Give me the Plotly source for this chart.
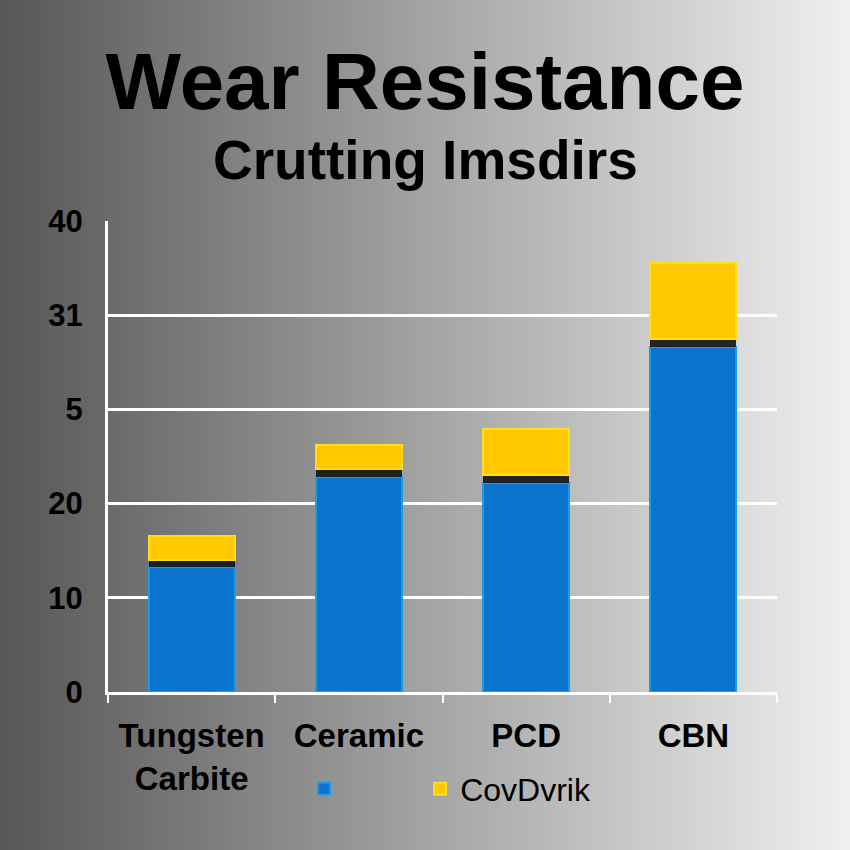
import base64, struct, zlib
import plotly.graph_objects as go

# ---- data ----
categories = ["Tungsten<br>Carbite", "Ceramic", "PCD", "CBN"]
blue_values = [13.3, 22.8, 22.2, 36.6]
gap_values = [0.7, 0.9, 0.8, 0.9]
yellow_values = [2.6, 2.5, 4.9, 8.0]
ytick_vals = [0, 10, 20, 30, 40, 50]
ytick_text = ["0", "10", "20", "5", "31", "40"]
legend_names = ["\u00a0" * 8, "CovDvrik"]
title_text = "Wear Resistance"
subtitle_text = "Crutting Imsdirs"

W, H = 850, 850
L, R, T, B = 108, 73, 221, 158
pw, ph = W - L - R, H - T - B


# ---- brushed-metal gradient background (decoration) ----
def gradient_png(width=256):
    row = bytearray([0])
    for i in range(width):
        g = int(88 + 152 * i / (width - 1))
        row += bytes([g, g, g])
    raw = bytes(row)
    def chunk(tag, data):
        c = struct.pack(">I", len(data)) + tag + data
        return c + struct.pack(">I", zlib.crc32(tag + data) & 0xFFFFFFFF)
    png = b"\x89PNG\r\n\x1a\n"
    png += chunk(b"IHDR", struct.pack(">IIBBBBB", width, 1, 8, 2, 0, 0, 0))
    png += chunk(b"IDAT", zlib.compress(raw))
    png += chunk(b"IEND", b"")
    return "data:image/png;base64," + base64.b64encode(png).decode()


FONT = "Liberation Sans, Arial, sans-serif"

fig = go.Figure()
fig.add_trace(go.Bar(
    x=categories, y=blue_values, name=legend_names[0],
    marker=dict(color="#0a74cc", line=dict(color="#1c9be8", width=2)),
))
fig.add_trace(go.Bar(
    x=categories, y=gap_values, showlegend=False, hoverinfo="skip",
    marker=dict(color="rgba(22,22,22,0.92)", line=dict(width=0)),
))
fig.add_trace(go.Bar(
    x=categories, y=yellow_values, name=legend_names[1],
    marker=dict(color="#ffc800", line=dict(color="#ffdc1e", width=2)),
))

fig.update_layout(
    width=W, height=H,
    margin=dict(l=L, r=R, t=T, b=B, autoexpand=False),
    barmode="stack", bargap=0.485,
    paper_bgcolor="#a4a4a4", plot_bgcolor="rgba(0,0,0,0)",
    font=dict(family=FONT, color="black"),
    images=[dict(
        source=gradient_png(), xref="paper", yref="paper",
        x=-L / pw, y=1 + T / ph, sizex=W / pw, sizey=H / ph,
        xanchor="left", yanchor="top", sizing="stretch", layer="below",
    )],
    title=dict(
        text=title_text, x=0.5, xref="container", xanchor="center",
        yref="container", y=1 - 81 / H, yanchor="middle",
        font=dict(family=FONT, size=80, weight="bold", color="black"),
    ),
    annotations=[dict(
        text=subtitle_text, xref="paper", yref="paper",
        x=(425 - L) / pw, y=1 + (T - 160) / ph, xanchor="center", yanchor="middle",
        showarrow=False,
        font=dict(family=FONT, size=55, weight="bold", color="black"),
    )],
    legend=dict(
        orientation="h", x=(304 - L) / pw, y=-(789 - (H - B)) / ph,
        xanchor="left", yanchor="middle",
        font=dict(family=FONT, size=32, color="black"),
        bgcolor="rgba(0,0,0,0)", traceorder="normal",
    ),
)

fig.update_yaxes(
    range=[0, 50], tickvals=ytick_vals, ticktext=ytick_text,
    showgrid=True, gridcolor="white", gridwidth=3,
    showline=True, linecolor="white", linewidth=3,
    zeroline=False, ticks="", ticklabelstandoff=16,
    tickfont=dict(family=FONT, size=31, weight="bold", color="black"),
)
fig.update_xaxes(
    showline=True, linecolor="white", linewidth=3,
    tickson="boundaries", ticks="outside", ticklen=8, tickwidth=2,
    tickcolor="white", ticklabelstandoff=12,
    tickfont=dict(family=FONT, size=33, weight="bold", color="black"),
)

fig.write_html("out.html")
